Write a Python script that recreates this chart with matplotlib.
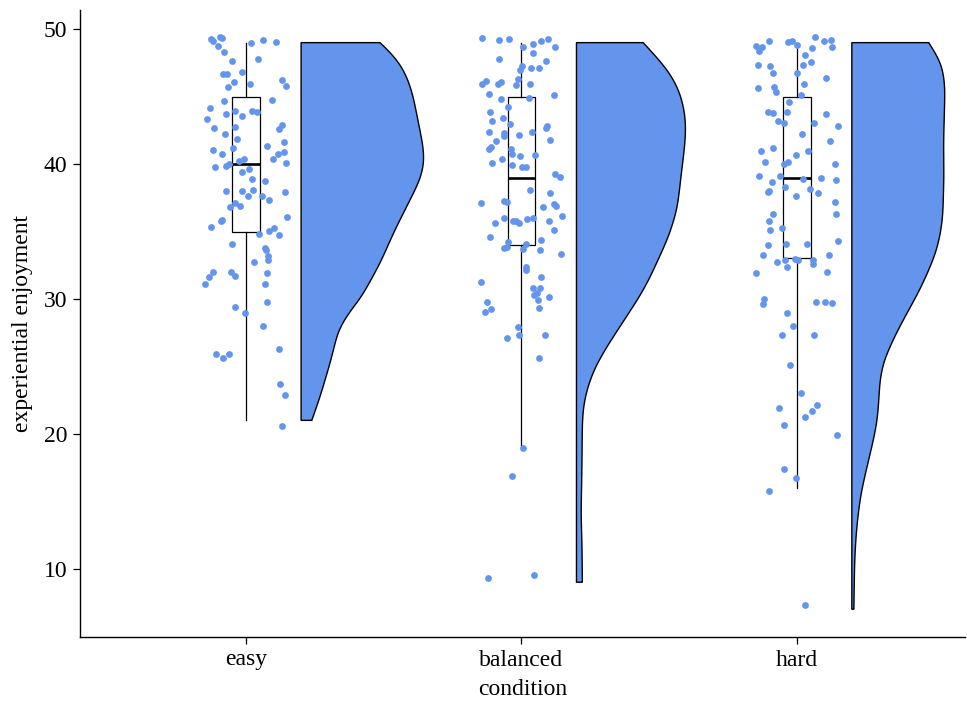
import numpy as np
import matplotlib
matplotlib.use("Agg")
import matplotlib.pyplot as plt

# ---------------- data ----------------
conditions = ["easy", "balanced", "hard"]

# jittered raw points: horizontal jitter offset (category units) and value
easy_jit = [-0.128, -0.121, -0.094, -0.086, 0.018, 0.063, 0.108, -0.102, -0.081, -0.052,
            0.044, -0.013, -0.082, -0.070, -0.042, -0.064, 0.015, 0.132, 0.146, -0.081,
            0.093, -0.132, -0.143, -0.071, -0.040, -0.013, 0.022, 0.039, -0.116, -0.041,
            -0.077, -0.034, 0.120, 0.132, 0.139, -0.048, 0.075, -0.121, -0.088, 0.097,
            0.117, 0.137, 0.144, -0.114, -0.073, -0.061, -0.025, -0.007, 0.010, -0.016,
            0.022, 0.068, -0.074, -0.016, 0.024, 0.006, 0.059, 0.083, 0.143, -0.041,
            -0.058, -0.022, -0.092, -0.086, -0.126, 0.083, 0.100, 0.121, 0.047, 0.149,
            -0.050, 0.069, 0.073, 0.079, 0.079, 0.030, 0.075, -0.053, -0.041, -0.121,
            -0.135, -0.149, 0.069, 0.077, -0.039, -0.002, 0.062, -0.110, -0.082, -0.062,
            0.119, 0.123, 0.143, 0.132]
easy_val = [49.27, 49.14, 49.39, 49.31, 48.99, 49.19, 49.02, 48.77, 48.32, 47.64,
            47.76, 46.84, 46.67, 46.67, 46.05, 45.73, 45.93, 46.20, 45.80, 44.69,
            44.72, 44.12, 43.31, 43.71, 43.95, 43.58, 43.91, 43.83, 42.64, 42.72,
            42.20, 41.83, 42.57, 42.89, 41.60, 41.21, 41.33, 41.01, 40.72, 40.37,
            40.72, 40.91, 40.05, 39.80, 39.88, 40.00, 40.22, 40.35, 39.63, 39.38,
            38.89, 38.71, 38.02, 38.00, 38.10, 37.65, 37.65, 37.33, 37.90, 37.09,
            36.79, 36.89, 35.75, 35.85, 35.33, 35.06, 35.23, 34.71, 34.84, 36.10,
            34.09, 33.80, 33.62, 33.18, 32.88, 32.71, 31.94, 32.02, 31.72, 31.99,
            31.64, 31.12, 31.10, 29.75, 29.38, 28.93, 28.02, 25.90, 25.60, 25.92,
            26.26, 23.67, 22.85, 20.60]

balanced_jit = [-0.142, -0.081, -0.046, 0.006, 0.042, 0.073, 0.096, 0.123, 0.042, -0.082,
                0.090, 0.002, -0.006, 0.034, 0.064, -0.144, -0.129, -0.086, -0.073, -0.018,
                -0.011, 0.031, -0.117, -0.073, 0.119, 0.028, -0.050, -0.113, -0.108, -0.067,
                -0.040, 0.088, 0.093, -0.117, -0.063, -0.064, -0.008, 0.038, -0.091, 0.104,
                -0.117, -0.109, -0.039, -0.033, -0.006, 0.048, -0.069, -0.105, -0.033, 0.001,
                0.016, 0.121, 0.142, 0.031, 0.103, -0.146, -0.062, -0.052, 0.079, 0.120,
                0.125, 0.148, -0.064, -0.030, -0.018, -0.008, 0.022, 0.042, 0.099, -0.097,
                0.120, -0.114, -0.047, -0.062, -0.053, 0.018, 0.006, 0.071, 0.068, 0.145,
                0.016, 0.015, 0.070, -0.148, 0.042, 0.067, 0.045, 0.057, 0.100, -0.125,
                0.060, 0.064, -0.131, -0.110, -0.013, -0.051, -0.007, 0.086, 0.064, 0.005,
                -0.033, -0.120, 0.045]
balanced_val = [49.32, 49.19, 49.24, 48.70, 48.87, 49.12, 49.27, 48.67, 48.25, 47.76,
                47.61, 47.26, 46.97, 47.14, 47.14, 45.91, 46.18, 45.91, 46.10, 45.83,
                46.28, 45.91, 45.19, 44.82, 45.11, 44.87, 44.25, 43.83, 43.21, 43.39,
                42.97, 42.67, 42.84, 42.35, 42.28, 42.08, 42.13, 42.35, 41.70, 41.78,
                41.11, 41.24, 41.11, 40.72, 40.59, 40.67, 40.37, 40.10, 39.90, 39.80,
                39.80, 39.24, 39.06, 38.07, 37.87, 37.11, 37.26, 37.18, 36.84, 37.01,
                36.89, 36.15, 36.02, 35.80, 35.75, 35.65, 35.92, 35.97, 35.80, 35.63,
                35.11, 34.61, 34.20, 33.77, 33.85, 34.09, 33.70, 34.39, 33.62, 33.35,
                32.34, 32.14, 31.62, 31.25, 30.83, 30.81, 30.29, 30.42, 30.14, 29.79,
                29.92, 29.35, 29.01, 29.25, 27.89, 27.10, 27.30, 27.32, 25.59, 18.97,
                16.88, 9.28, 9.55]

hard_jit = [-0.149, -0.137, -0.127, -0.099, -0.030, -0.016, 0.000, 0.067, 0.100, 0.125,
            0.129, 0.054, 0.031, -0.139, -0.097, -0.085, 0.022, 0.053, 0.002, 0.106,
            -0.139, -0.081, -0.075, 0.025, 0.015, -0.027, -0.105, -0.085, -0.036, -0.067,
            -0.046, 0.062, 0.108, 0.149, 0.019, 0.120, -0.129, -0.087, 0.041, -0.115,
            -0.002, -0.033, -0.048, 0.139, -0.138, -0.060, 0.088, 0.143, -0.090, 0.024,
            0.048, -0.041, -0.106, -0.102, -0.001, 0.076, 0.138, -0.086, 0.142, -0.102,
            -0.096, -0.054, -0.103, -0.040, 0.036, 0.151, -0.121, -0.070, -0.041, -0.008,
            0.006, 0.058, 0.060, -0.034, 0.117, -0.148, 0.111, -0.119, -0.121, 0.069,
            0.104, 0.129, -0.034, -0.012, -0.052, 0.063, -0.023, 0.017, -0.063, 0.073,
            0.054, 0.031, -0.045, 0.145, -0.045, -0.002, -0.100, 0.030]
hard_val = [48.75, 48.40, 48.65, 49.12, 49.07, 49.12, 48.82, 49.39, 49.14, 49.19,
            48.70, 48.58, 48.08, 47.31, 47.26, 46.77, 47.31, 47.58, 46.72, 46.35,
            45.61, 45.68, 45.31, 45.93, 45.11, 44.62, 43.85, 43.75, 43.88, 43.21,
            43.06, 43.01, 43.71, 42.82, 42.20, 41.70, 40.96, 41.21, 40.96, 40.12,
            40.64, 40.17, 39.98, 40.00, 39.13, 39.13, 38.99, 38.84, 38.64, 38.91,
            38.17, 38.30, 37.95, 37.97, 37.65, 37.85, 37.16, 36.32, 36.27, 35.77,
            35.11, 35.28, 33.97, 34.09, 34.09, 34.29, 33.23, 32.71, 32.88, 32.93,
            32.88, 32.88, 32.59, 32.36, 33.25, 31.94, 32.00, 30.01, 29.62, 29.75,
            29.75, 29.72, 28.93, 27.99, 27.32, 27.32, 25.10, 23.05, 21.91, 22.14,
            21.70, 21.25, 20.66, 19.89, 17.36, 16.74, 15.80, 7.31]

# boxplot summary (lower whisker, Q1, median, Q3, upper whisker)
box_whislo = [21, 19, 16]
box_q1 = [35, 34, 33]
box_med = [40, 39, 39]
box_q3 = [45, 45, 45]
box_whishi = [49, 49, 49]

# half-violin density profiles (value, relative density)
easy_dens_y = [49.0, 48.45, 47.46, 46.23, 44.99, 42.52, 41.28, 40.05, 38.81, 37.58,
               35.11, 32.64, 30.16, 28.93, 27.69, 25.23, 22.75, 21.0]
easy_dens = [0.641, 0.708, 0.803, 0.870, 0.911, 0.965, 0.992, 1.0, 0.965, 0.898,
             0.762, 0.641, 0.492, 0.384, 0.303, 0.235, 0.154, 0.087]
balanced_dens_y = [49.0, 47.86, 46.81, 45.75, 44.69, 43.37, 42.05, 40.73, 39.40, 38.08,
                   36.76, 35.44, 34.12, 32.79, 31.47, 30.15, 28.83, 27.51, 26.18, 24.86,
                   23.54, 22.22, 20.9, 18.25, 15.61, 14.29, 12.97, 11.64, 9.0]
balanced_dens = [0.612, 0.742, 0.849, 0.924, 0.970, 1.0, 1.0, 0.984, 0.963, 0.945,
                 0.924, 0.879, 0.818, 0.742, 0.667, 0.576, 0.470, 0.363, 0.258, 0.167,
                 0.106, 0.067, 0.054, 0.051, 0.046, 0.042, 0.046, 0.051, 0.054]
hard_dens_y = [49.0, 48.04, 47.22, 45.84, 44.47, 41.73, 38.98, 36.24, 34.86, 33.49,
               32.12, 30.75, 29.37, 28.0, 26.63, 25.25, 23.88, 22.51, 21.14, 19.76,
               18.39, 17.02, 15.65, 14.27, 12.9, 11.53, 10.16, 7.0]
hard_dens = [0.826, 0.916, 0.971, 1.0, 0.997, 0.986, 0.989, 0.978, 0.953, 0.905,
             0.826, 0.735, 0.627, 0.518, 0.420, 0.337, 0.301, 0.290, 0.275, 0.239,
             0.192, 0.145, 0.101, 0.072, 0.051, 0.037, 0.029, 0.022]
# peak half-width of each violin (category units)
violin_peak = [0.447, 0.396, 0.338]

yticks = [10, 20, 30, 40, 50]

# ---------------- drawing ----------------
COL = "#6495ED"
plt.rcParams["font.family"] = ["Liberation Serif", "DejaVu Serif"]

fig = plt.figure(figsize=(9.67, 7.02), dpi=100)
ax = fig.add_axes([80 / 967, 65 / 702, 885 / 967, 627 / 702])


def smooth(v, d, n=800, sigma=0.55):
    v = np.asarray(v, float)
    d = np.asarray(d, float)
    o = np.argsort(v)
    v, d = v[o], d[o]
    vv = np.linspace(v[0], v[-1], n)
    dd = np.interp(vv, v, d)
    step = vv[1] - vv[0]
    k = int(np.ceil(3 * sigma / step))
    # odd reflection keeps linear trends at the ends
    lo = 2 * dd[0] - dd[1:k + 1][::-1]
    hi = 2 * dd[-1] - dd[-k - 1:-1][::-1]
    padded = np.concatenate([lo, dd, hi])
    xs = np.arange(-k, k + 1) * step
    ker = np.exp(-0.5 * (xs / sigma) ** 2)
    ker /= ker.sum()
    sm = np.convolve(padded, ker, mode="valid")
    return vv, np.clip(sm, 0.005, None)


jits = [easy_jit, balanced_jit, hard_jit]
vals = [easy_val, balanced_val, hard_val]
dys = [easy_dens_y, balanced_dens_y, hard_dens_y]
dds = [easy_dens, balanced_dens, hard_dens]

for k in range(3):
    pos = k + 1
    # half violin
    vv, dd = smooth(dys[k], dds[k])
    x0 = pos + 0.2
    xr = x0 + dd * violin_peak[k]
    px = np.concatenate([[x0], xr, [x0]])
    py = np.concatenate([[vv[0]], vv, [vv[-1]]])
    ax.fill(px, py, facecolor=COL, edgecolor="black", linewidth=1.0, zorder=1)
    # points
    ax.scatter(pos + np.asarray(jits[k]), vals[k], s=24, color=COL,
               linewidths=0, zorder=3)

stats = [dict(med=box_med[k], q1=box_q1[k], q3=box_q3[k], whislo=box_whislo[k],
              whishi=box_whishi[k], fliers=[]) for k in range(3)]
ax.bxp(stats, positions=[1, 2, 3], widths=0.1, showcaps=False, showfliers=False,
       patch_artist=True, manage_ticks=False,
       boxprops=dict(facecolor="none", edgecolor="black", linewidth=0.9),
       whiskerprops=dict(color="black", linewidth=0.9),
       medianprops=dict(color="black", linewidth=1.9, solid_capstyle="butt"),
       zorder=2)

ax.set_xlim(0.397, 3.611)
ax.set_ylim(4.94, 51.42)
ax.set_xticks([1, 2, 3])
ax.set_xticklabels(conditions)
ax.set_yticks(yticks)
for s in ["top", "right"]:
    ax.spines[s].set_visible(False)
for s in ["left", "bottom"]:
    ax.spines[s].set_linewidth(1.0)
ax.tick_params(axis="both", length=5, width=0.9, labelsize=17, pad=4,
               colors="black")
ax.set_xlabel("condition", fontsize=17, labelpad=6)
ax.set_ylabel("experiential enjoyment", fontsize=17, labelpad=8)

fig.savefig("out.png", dpi=100)
